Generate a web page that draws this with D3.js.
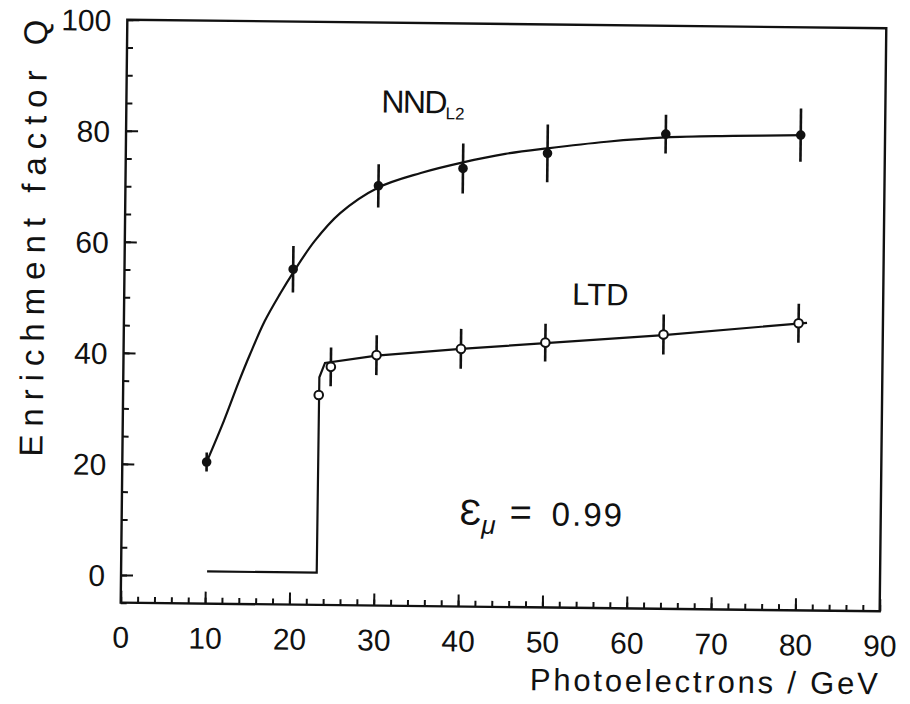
<!DOCTYPE html>
<html>
<head>
<meta charset="utf-8">
<script src="https://cdnjs.cloudflare.com/ajax/libs/d3/7.8.5/d3.min.js"></script>
<style>
  body { margin: 0; background: #fff; }
  text { font-family: "Liberation Sans", Arial, sans-serif; fill: #111; }
</style>
</head>
<body>
<div id="chart"></div>
<script>
// measured points (photoelectrons / GeV vs enrichment factor Q)
var nndE = [10, 20, 30, 40, 50, 64, 80];
var nndQ = [20.5, 55.4, 70.6, 73.9, 76.8, 80.5, 80.6];
var nndErr = [1.7, 4.2, 3.9, 4.5, 5.2, 3.5, 4.8];

var ltdE = [23.2, 24.6, 30, 40, 50, 64, 80];
var ltdQ = [32.8, 37.9, 40.1, 41.4, 42.7, 44.4, 46.7];
var ltdErr = [0, 3.5, 3.6, 3.6, 3.4, 3.6, 3.5];

// hand drawn fit curves
var nndFitE = [10, 12, 13.7, 15, 16.7, 18.5, 20, 22.5, 25.5, 30, 35, 40, 45, 50, 57, 64, 72, 80.5];
var nndFitQ = [20.5, 28, 35, 40, 46, 51, 54.8, 60.5, 65.6, 70.3, 73, 75, 76.6, 77.7, 79, 79.9, 80.3, 80.6];
var ltdFitE = [10.2, 23.2, 23.25, 23.9, 30, 40, 50, 64, 81];
var ltdFitQ = [0.8, 0.8, 36, 38.6, 40, 41.4, 42.6, 44.3, 46.8];

var xTicks = [0, 10, 20, 30, 40, 50, 60, 70, 80, 90];
var yTicks = [0, 20, 40, 60, 80, 100];

var W = 910, H = 704;
var frameL = 124, frameR = 883, frameT = 24, frameB = 607;

var x = d3.scaleLinear().domain([0, 90]).range([frameL, frameR]);
var y = d3.scaleLinear().domain([-5, 100]).range([frameB, frameT]);

var svg = d3.select("#chart").append("svg")
  .attr("width", W)
  .attr("height", H);

// the scanned page is slightly tilted
var g = svg.append("g").attr("transform", "rotate(0.65,505,315)");

// minor ticks
g.append("g")
  .attr("transform", "translate(0," + frameB + ")")
  .call(d3.axisBottom(x).tickValues(d3.range(0, 91, 2)).tickSize(-6).tickFormat(""))
  .call(function(s) { s.select(".domain").remove(); });
g.append("g")
  .attr("transform", "translate(" + frameL + ",0)")
  .call(d3.axisLeft(y).tickValues(d3.range(-5, 101, 5)).tickSize(-6).tickFormat(""))
  .call(function(s) { s.select(".domain").remove(); });

// major ticks + labels
var xAxis = g.append("g")
  .attr("transform", "translate(0," + frameB + ")")
  .call(d3.axisBottom(x).tickValues(xTicks).tickSize(-12).tickFormat(d3.format("d")));
xAxis.select(".domain").remove();
xAxis.selectAll("text")
  .attr("y", 45).attr("dy", 0)
  .style("font-size", "30px");

var yAxis = g.append("g")
  .attr("transform", "translate(" + frameL + ",0)")
  .call(d3.axisLeft(y).tickValues(yTicks).tickSize(-12).tickFormat(d3.format("d")));
yAxis.select(".domain").remove();
yAxis.selectAll("text")
  .attr("x", -16).attr("dy", "0.36em")
  .style("font-size", "30px");

g.selectAll(".tick line").attr("stroke", "#111").attr("stroke-width", 2);

// frame
g.append("rect")
  .attr("x", frameL).attr("y", frameT)
  .attr("width", frameR - frameL).attr("height", frameB - frameT)
  .attr("fill", "none").attr("stroke", "#111").attr("stroke-width", 2.4);

// fit curves
var nndLine = d3.line()
  .x(function(d, i) { return x(nndFitE[i]); })
  .y(function(d) { return y(d); })
  .curve(d3.curveCatmullRom);
g.append("path")
  .attr("d", nndLine(nndFitQ))
  .attr("fill", "none").attr("stroke", "#111").attr("stroke-width", 2.2);

var ltdLine = d3.line()
  .x(function(d, i) { return x(ltdFitE[i]); })
  .y(function(d) { return y(d); });
g.append("path")
  .attr("d", ltdLine(ltdFitQ))
  .attr("fill", "none").attr("stroke", "#111").attr("stroke-width", 2.2);

// error bars
g.selectAll(".nnd-err")
  .data(nndQ)
  .enter().append("line")
  .attr("class", "nnd-err")
  .attr("x1", function(d, i) { return x(nndE[i]); })
  .attr("x2", function(d, i) { return x(nndE[i]); })
  .attr("y1", function(d, i) { return y(d - nndErr[i]); })
  .attr("y2", function(d, i) { return y(d + nndErr[i]); })
  .attr("stroke", "#111").attr("stroke-width", 2.6);

g.selectAll(".ltd-err")
  .data(ltdQ)
  .enter().append("line")
  .attr("class", "ltd-err")
  .attr("x1", function(d, i) { return x(ltdE[i]); })
  .attr("x2", function(d, i) { return x(ltdE[i]); })
  .attr("y1", function(d, i) { return y(d - ltdErr[i]); })
  .attr("y2", function(d, i) { return y(d + ltdErr[i]); })
  .attr("stroke", "#111").attr("stroke-width", 2.6);

// markers
g.selectAll(".nnd")
  .data(nndQ)
  .enter().append("circle")
  .attr("class", "nnd")
  .attr("cx", function(d, i) { return x(nndE[i]); })
  .attr("cy", function(d) { return y(d); })
  .attr("r", 4.8)
  .attr("fill", "#111");

g.selectAll(".ltd")
  .data(ltdQ)
  .enter().append("circle")
  .attr("class", "ltd")
  .attr("cx", function(d, i) { return x(ltdE[i]); })
  .attr("cy", function(d) { return y(d); })
  .attr("r", 4.3)
  .attr("fill", "#fff").attr("stroke", "#111").attr("stroke-width", 2);

// curve labels
var nndLab = g.append("text")
  .attr("x", 379).attr("y", 114)
  .style("font-size", "32px");
nndLab.append("tspan").attr("textLength", 66).text("NND");
nndLab.append("tspan").attr("dy", 6).style("font-size", "17px").text("L2");

g.append("text")
  .attr("x", 572).attr("y", 304)
  .style("font-size", "31px")
  .text("LTD");

var eps = g.append("text")
  .attr("x", 462).attr("y", 525)
  .style("font-size", "33px");
eps.append("tspan").style("font-size", "36px").text("Ɛ");
eps.append("tspan").attr("dy", 9).style("font-size", "26px").style("font-style", "italic").text("μ");
eps.append("tspan").attr("x", 512).attr("dy", -9).style("font-size", "38px").text("=");
eps.append("tspan").attr("x", 554).style("letter-spacing", "2px").text("0.99");

// axis titles
g.append("text")
  .attr("x", 534).attr("y", 690)
  .attr("textLength", 348).attr("lengthAdjust", "spacing")
  .style("font-size", "31px")
  .text("Photoelectrons / GeV");

g.append("text")
  .attr("transform", "translate(44,462) rotate(-90)")
  .attr("textLength", 437).attr("lengthAdjust", "spacing")
  .style("font-size", "33px")
  .text("Enrichment factor Q");
</script>
</body>
</html>
